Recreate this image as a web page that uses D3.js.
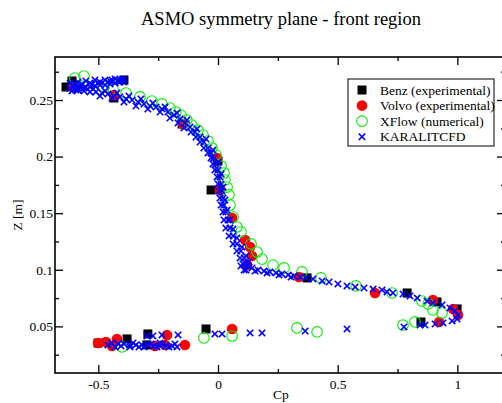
<!DOCTYPE html>
<html>
<head>
<meta charset="utf-8">
<script src="https://cdn.jsdelivr.net/npm/d3@7/dist/d3.min.js"></script>
<style>
body { margin: 0; background: #fff; }
svg { display: block; }
text { font-family: "Liberation Serif", "Times New Roman", serif; fill: #000; }
</style>
</head>
<body>
<div id="graf"></div>
<script>
// Datos [Cp, Z]
const benz = [
  [-0.635, 0.2615], [-0.610, 0.2668], [-0.393, 0.2677], [-0.435, 0.2518],
  [-0.150, 0.2288], [0.000, 0.1961], [-0.029, 0.1705], [0.372, 0.0928],
  [0.790, 0.0795], [0.915, 0.0716], [0.999, 0.0654], [0.848, 0.0539],
  [-0.050, 0.0477], [-0.293, 0.0433], [-0.380, 0.0389], [-0.501, 0.0353],
  [-0.297, 0.0336]
]
const volvo = [
  [-0.606, 0.2615], [-0.435, 0.2544], [-0.146, 0.2288], [-0.004, 0.1988],
  [0.008, 0.1705], [0.059, 0.1458], [0.113, 0.1263], [0.134, 0.1201],
  [0.142, 0.1122], [0.121, 0.1042], [0.338, 0.0936], [0.656, 0.0795],
  [0.898, 0.0733], [0.982, 0.0654], [1.003, 0.0601], [0.924, 0.0539],
  [0.059, 0.0477], [-0.501, 0.0353], [-0.468, 0.0362], [-0.422, 0.0389],
  [-0.443, 0.0327], [-0.263, 0.0327], [-0.213, 0.0424], [-0.221, 0.0336],
  [-0.138, 0.0336]
]
const xflow = [
  [-0.598, 0.2694], [-0.560, 0.2712], [-0.476, 0.2615], [-0.439, 0.2597],
  [-0.384, 0.2562], [-0.326, 0.2527], [-0.276, 0.2491], [-0.234, 0.2465],
  [-0.201, 0.2429], [-0.176, 0.2394], [-0.155, 0.2367], [-0.130, 0.2323],
  [-0.109, 0.2279], [-0.084, 0.2235], [-0.063, 0.2191], [-0.042, 0.2138],
  [-0.025, 0.2076], [-0.008, 0.2014], [0.013, 0.1917], [0.025, 0.1855],
  [0.029, 0.1793], [0.038, 0.1731], [0.046, 0.1661], [0.050, 0.1572],
  [0.063, 0.1466], [0.079, 0.1378], [0.096, 0.1334], [0.138, 0.1228],
  [0.163, 0.1157], [0.184, 0.1095], [0.230, 0.1042], [0.276, 0.1016],
  [0.351, 0.0981], [0.430, 0.0928], [0.577, 0.0857], [0.727, 0.0795],
  [0.852, 0.0724], [0.878, 0.0698], [0.898, 0.0645], [0.936, 0.0618],
  [0.823, 0.0539], [0.773, 0.0512], [0.414, 0.0451], [0.330, 0.0486],
  [0.059, 0.0415], [-0.059, 0.0398], [-0.401, 0.0318]
]
const karalit = [
  // abanico superior
  [-0.618, 0.2650], [-0.618, 0.2606], [-0.602, 0.2624], [-0.585, 0.2659],
  [-0.585, 0.2606], [-0.568, 0.2641], [-0.552, 0.2668], [-0.552, 0.2615],
  [-0.535, 0.2650], [-0.535, 0.2615], [-0.514, 0.2677], [-0.514, 0.2624],
  [-0.493, 0.2659], [-0.493, 0.2633], [-0.472, 0.2677], [-0.472, 0.2633],
  [-0.451, 0.2668], [-0.451, 0.2641], [-0.430, 0.2685], [-0.430, 0.2650],
  [-0.410, 0.2677], [-0.410, 0.2659], [-0.393, 0.2685], [-0.393, 0.2659],
  [-0.598, 0.2641], [-0.577, 0.2624], [-0.527, 0.2633], [-0.502, 0.2650],
  [-0.460, 0.2659], [-0.443, 0.2677], [-0.418, 0.2668], [-0.401, 0.2677],
  [-0.594, 0.2588], [-0.560, 0.2606],
  // rama principal
  [-0.610, 0.2580], [-0.585, 0.2588], [-0.560, 0.2580], [-0.535, 0.2571],
  [-0.510, 0.2571], [-0.485, 0.2562], [-0.460, 0.2553], [-0.435, 0.2535],
  [-0.410, 0.2527], [-0.384, 0.2509], [-0.359, 0.2500], [-0.334, 0.2482],
  [-0.309, 0.2465], [-0.284, 0.2447], [-0.259, 0.2438], [-0.234, 0.2420],
  [-0.209, 0.2394], [-0.184, 0.2367], [-0.159, 0.2332], [-0.138, 0.2297],
  [-0.117, 0.2261], [-0.096, 0.2217], [-0.075, 0.2173], [-0.059, 0.2129],
  [-0.042, 0.2076], [-0.029, 0.2032], [-0.017, 0.1988], [-0.008, 0.1935],
  [0.000, 0.1882], [0.008, 0.1820], [0.013, 0.1758], [0.017, 0.1696],
  [0.021, 0.1634], [0.025, 0.1572], [0.033, 0.1511], [0.042, 0.1440],
  [0.050, 0.1369], [0.063, 0.1299], [0.079, 0.1228], [0.096, 0.1166],
  [0.109, 0.1104], [0.117, 0.1060], [0.125, 0.1034], [0.142, 0.1016],
  [0.167, 0.0998], [0.192, 0.0989], [0.217, 0.0981], [0.242, 0.0972],
  [0.267, 0.0963], [0.293, 0.0954], [0.318, 0.0945], [0.343, 0.0936],
  [0.368, 0.0928], [0.397, 0.0919], [0.435, 0.0901], [0.464, 0.0892],
  [0.501, 0.0875], [0.539, 0.0857], [0.573, 0.0848], [0.610, 0.0839],
  [0.648, 0.0830], [0.685, 0.0822], [0.706, 0.0804], [0.731, 0.0795],
  [0.773, 0.0786], [0.802, 0.0769], [0.832, 0.0751], [0.873, 0.0724],
  [0.898, 0.0707], [0.936, 0.0689], [0.969, 0.0663], [0.990, 0.0636],
  [1.003, 0.0601], [0.999, 0.0565], [0.978, 0.0548], [0.940, 0.0530],
  [0.907, 0.0521], [0.865, 0.0512], [0.844, 0.0512], [0.777, 0.0495],
  [0.539, 0.0477], [0.364, 0.0459], [0.184, 0.0442], [0.134, 0.0442],
  [0.017, 0.0433], [-0.013, 0.0433], [-0.167, 0.0424], [-0.234, 0.0424],
  [-0.272, 0.0415], [-0.297, 0.0415],
  // linea inferior
  [-0.460, 0.0336], [-0.443, 0.0353], [-0.418, 0.0345], [-0.393, 0.0345],
  [-0.368, 0.0336], [-0.343, 0.0336], [-0.318, 0.0336], [-0.293, 0.0336],
  [-0.267, 0.0327], [-0.242, 0.0327], [-0.217, 0.0327], [-0.192, 0.0327],
  [-0.171, 0.0318], [-0.430, 0.0318], [-0.368, 0.0318], [-0.309, 0.0318],
  [-0.242, 0.0353], [-0.405, 0.0327], [-0.355, 0.0353], [-0.330, 0.0318],
  [-0.280, 0.0345], [-0.255, 0.0318], [-0.230, 0.0345], [-0.205, 0.0318],
  [-0.180, 0.0345],
  // espesor de la banda
  [-0.113, 0.2217], [-0.092, 0.2173], [-0.075, 0.2129], [-0.059, 0.2076],
  [-0.042, 0.2032], [-0.029, 0.1988], [-0.021, 0.1935], [-0.013, 0.1882],
  [-0.004, 0.1820], [0.000, 0.1758], [0.004, 0.1696], [0.008, 0.1634],
  [0.013, 0.1572], [0.021, 0.1511], [0.025, 0.1440], [0.033, 0.1369],
  [0.046, 0.1299], [0.063, 0.1228], [0.079, 0.1166], [0.092, 0.1104],
  [0.104, 0.1051], [0.109, 0.0998], [0.096, 0.1034], [0.117, 0.0998],
  [-0.493, 0.2535], [-0.443, 0.2518], [-0.393, 0.2482], [-0.343, 0.2447],
  [-0.293, 0.2420], [-0.242, 0.2394], [-0.201, 0.2341], [-0.167, 0.2297],
  [-0.142, 0.2253],
  [-0.573, 0.2606], [-0.522, 0.2597], [-0.472, 0.2580], [-0.422, 0.2562],
  [-0.372, 0.2535], [-0.322, 0.2509], [-0.272, 0.2473], [-0.221, 0.2438],
  [-0.171, 0.2385], [-0.130, 0.2323], [-0.088, 0.2244], [-0.050, 0.2155],
  [-0.021, 0.2058], [0.000, 0.1952], [0.013, 0.1846], [0.021, 0.1731],
  [0.029, 0.1617], [0.038, 0.1528], [0.050, 0.1440], [0.063, 0.1360],
  [0.079, 0.1281], [0.100, 0.1201], [0.117, 0.1122], [0.130, 0.1069],
  [0.155, 0.0989], [0.205, 0.0972], [0.255, 0.0954], [0.305, 0.0936]
]

const xMajor = [-0.5, 0, 0.5, 1]
const xMinor = [-0.25, 0.25, 0.75]
const yMajor = [0.05, 0.1, 0.15, 0.2, 0.25]
const yMinor = [0.025, 0.075, 0.125, 0.175, 0.225, 0.275]

const series = [
  { name: 'Benz (experimental)', data: benz, tipo: 'square' },
  { name: 'Volvo (experimental)', data: volvo, tipo: 'dot' },
  { name: 'XFlow (numerical)', data: xflow, tipo: 'ring' },
  { name: 'KARALITCFD', data: karalit, tipo: 'cross' }
]

// Dimensiones
const ancho_total = 502, alto_total = 403
const margen = { izquierdo: 55, superior: 57, derecho: 505, inferior: 373 }

const svg = d3.select('#graf').append('svg')
  .attr('width', ancho_total)
  .attr('height', alto_total)

const x = d3.scaleLinear().domain([-0.681, 1.199]).range([margen.izquierdo, margen.derecho])
const y = d3.scaleLinear().domain([0.0088, 0.288]).range([margen.inferior, margen.superior])

const fmt = d => String(+d.toFixed(3))

// Titulo
svg.append('text')
  .attr('x', 281).attr('y', 25)
  .attr('text-anchor', 'middle')
  .style('font-size', '18.5px')
  .text('ASMO symmetry plane - front region')

// Ejes con ticks hacia adentro
function eje(gen, tx, ty, vals, size, etiquetas) {
  const a = gen.tickValues(vals).tickSizeInner(-size).tickSizeOuter(0)
  if (etiquetas) a.tickPadding(etiquetas).tickFormat(fmt)
  else a.tickFormat('')
  const g = svg.append('g').attr('transform', `translate(${tx},${ty})`).call(a)
  g.select('.domain').remove()
  g.selectAll('line').attr('stroke', '#000').attr('stroke-width', 1.3)
  g.selectAll('text').style('font-size', '13.5px').style('font-family', '"Liberation Serif", serif').attr('fill', '#000')
  return g
}
eje(d3.axisBottom(x), 0, margen.inferior, xMajor, 8, 6)
eje(d3.axisBottom(x), 0, margen.inferior, xMinor, 4, 0)
eje(d3.axisTop(x), 0, margen.superior, xMajor, 8, 0)
eje(d3.axisTop(x), 0, margen.superior, xMinor, 4, 0)
eje(d3.axisLeft(y), margen.izquierdo, 0, yMajor, 8, 2)
eje(d3.axisLeft(y), margen.izquierdo, 0, yMinor, 4, 0)
eje(d3.axisRight(y), margen.derecho, 0, yMajor, 8, 0)
eje(d3.axisRight(y), margen.derecho, 0, yMinor, 4, 0)

// Marco
svg.append('rect')
  .attr('x', margen.izquierdo).attr('y', margen.superior)
  .attr('width', margen.derecho - margen.izquierdo)
  .attr('height', margen.inferior - margen.superior)
  .attr('fill', 'none').attr('stroke', '#000').attr('stroke-width', 1.6)

// Etiquetas de ejes
svg.append('text')
  .attr('x', 281).attr('y', 399)
  .attr('text-anchor', 'middle')
  .style('font-size', '13.5px')
  .text('Cp')
svg.append('text')
  .attr('transform', 'translate(22,215) rotate(-90)')
  .attr('text-anchor', 'middle')
  .style('font-size', '13.5px')
  .text('Z [m]')

// Simbolos
function simbolo(sel, tipo) {
  if (tipo === 'square') {
    sel.append('rect').attr('x', -4.5).attr('y', -4.5).attr('width', 9).attr('height', 9).attr('fill', '#000')
  } else if (tipo === 'dot') {
    sel.append('circle').attr('r', 5.3).attr('fill', '#ff0000')
  } else if (tipo === 'ring') {
    sel.append('circle').attr('r', 5.3).attr('fill', 'none').attr('stroke', '#00ee00').attr('stroke-width', 1.1)
  } else {
    sel.append('path').attr('d', 'M-3.2,-3.2L3.2,3.2M-3.2,3.2L3.2,-3.2')
      .attr('stroke', '#0000ff').attr('stroke-width', 1.6).attr('fill', 'none')
  }
}

series.forEach(s => {
  const pts = svg.append('g').selectAll('g').data(s.data).enter().append('g')
    .attr('transform', d => `translate(${x(d[0])},${y(d[1])})`)
  simbolo(pts, s.tipo)
})

// Leyenda
const ley = svg.append('g')
ley.append('rect')
  .attr('x', 348).attr('y', 79).attr('width', 146).attr('height', 67)
  .attr('fill', '#fff').attr('stroke', '#000').attr('stroke-width', 1)
series.forEach((s, i) => {
  const fila = ley.append('g').attr('transform', `translate(362,${90 + i * 15.6})`)
  simbolo(fila, s.tipo)
  fila.append('text').attr('x', 18).attr('y', 4.5)
    .style('font-size', '13.5px')
    .text(s.name)
})
</script>
</body>
</html>
